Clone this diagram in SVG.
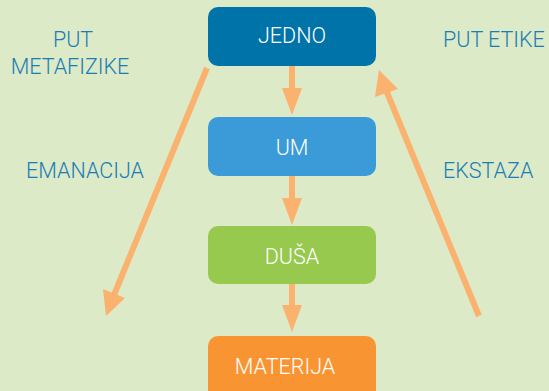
<svg xmlns="http://www.w3.org/2000/svg" width="549" height="391" viewBox="0 0 549 391">
<defs>
<style>
.lbl{font-family:Roboto,"Liberation Sans",Arial,sans-serif;font-weight:300;font-size:21.5px;fill:#1B7DB3;}
.nt{font-family:Roboto,"Liberation Sans",Arial,sans-serif;font-weight:300;font-size:21.5px;fill:#ffffff;text-anchor:middle;}
.ln{stroke:#FAB26E;stroke-width:6;fill:none;}
.hd{fill:#FAB26E;}
</style>
</defs>
<rect width="549" height="391" fill="#DCEAC8"/>
<g id="connectors">
<line class="ln" x1="292" y1="66" x2="292" y2="92"/>
<polygon class="hd" points="282,88 302,88 292,115"/>
<line class="ln" x1="292" y1="176" x2="292" y2="202"/>
<polygon class="hd" points="282,198 302,198 292,225"/>
<line class="ln" x1="292" y1="284" x2="292" y2="309"/>
<polygon class="hd" points="282,305 302,305 292,332"/>
<line class="ln" x1="207" y1="68" x2="114" y2="295"/>
<polygon class="hd" points="106,316 103,289 125,298"/>
<line class="ln" x1="479" y1="316" x2="386" y2="90"/>
<polygon class="hd" points="379,70 398,89 375,97"/>
</g>
<g id="jedno">
<rect x="208" y="7" width="168" height="59" rx="10" fill="#0074A9"/>
<text class="nt" x="292" y="43">JEDNO</text>
</g>
<g id="um">
<rect x="208" y="117" width="168" height="59" rx="10" fill="#3A9BD8"/>
<text class="nt" x="292" y="155">UM</text>
</g>
<g id="dusa">
<rect x="208" y="226" width="168" height="58" rx="10" fill="#96C94E"/>
<text class="nt" x="292" y="264">DUŠA</text>
</g>
<g id="materija">
<rect x="208" y="336" width="168" height="65" rx="10" fill="#F89532"/>
<text class="nt" x="285" y="374">MATERIJA</text>
</g>
<g id="labels">
<text class="lbl" x="73" y="47" text-anchor="middle">PUT</text>
<text class="lbl" x="70" y="74" text-anchor="middle">METAFIZIKE</text>
<text class="lbl" x="85" y="178" text-anchor="middle">EMANACIJA</text>
<text class="lbl" x="443" y="47">PUT ETIKE</text>
<text class="lbl" x="443" y="178">EKSTAZA</text>
</g>
</svg>
